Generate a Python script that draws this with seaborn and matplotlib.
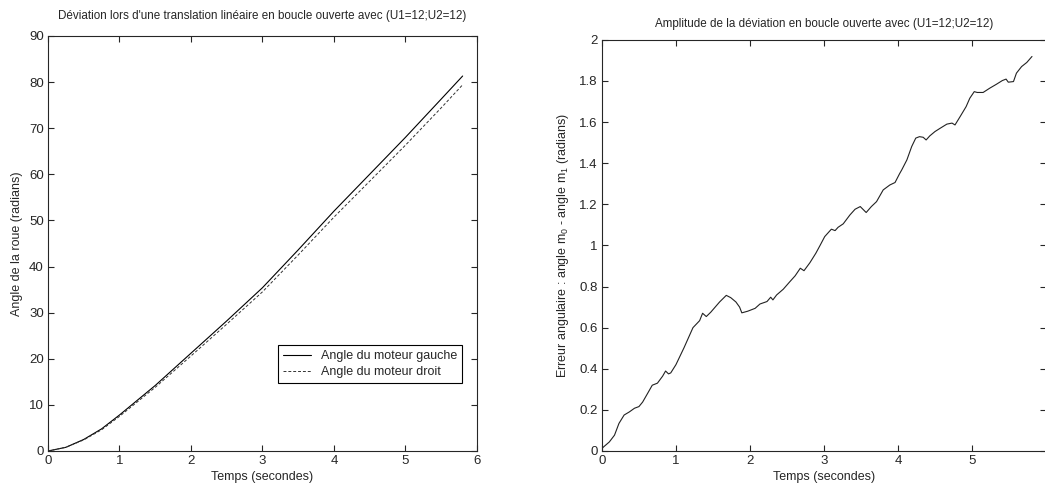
"""
Open-loop deviation plots: wheel angles and angular error
"""
import matplotlib
matplotlib.use("Agg")
import matplotlib.pyplot as plt
import seaborn as sns
import numpy as np

# left panel: wheel angles (radians) vs time (s)
t_angle = [0, 0.25, 0.5, 0.75, 1.0, 1.5, 2.0, 2.5, 3.0, 3.5, 4.0, 4.5, 5.0, 5.5, 5.8]
angle_left = [0, 0.8, 2.5, 4.8, 7.8, 14.2, 21.2, 28.2, 35.4, 43.6, 52.0, 60.0, 68.0, 76.3, 81.3]
angle_right = [0, 0.8, 2.4, 4.6, 7.5, 13.8, 20.6, 27.5, 34.5, 42.5, 50.7, 58.5, 66.3, 74.4, 79.4]

# right panel: angular error m0 - m1 (radians)
t_err = [0.01, 0.10, 0.17, 0.23, 0.30, 0.37, 0.44, 0.50, 0.55, 0.62, 0.68, 0.75, 0.82,
         0.86, 0.90, 0.93, 1.00, 1.11, 1.23, 1.32, 1.36, 1.41, 1.47, 1.59, 1.68, 1.74,
         1.81, 1.86, 1.89, 1.97, 2.07, 2.135, 2.23, 2.28, 2.31, 2.36, 2.45, 2.54, 2.61,
         2.68, 2.73, 2.81, 2.89, 2.95, 3.01, 3.10, 3.15, 3.19, 3.26, 3.35, 3.42, 3.49,
         3.57, 3.64, 3.71, 3.80, 3.89, 3.96, 4.02, 4.05, 4.12, 4.185, 4.24, 4.29, 4.34,
         4.38, 4.43, 4.50, 4.57, 4.66, 4.73, 4.77, 4.84, 4.92, 4.97, 5.03, 5.07, 5.15,
         5.24, 5.33, 5.41, 5.46, 5.49, 5.56, 5.60, 5.67, 5.74, 5.81]
err = [0.016, 0.044, 0.077, 0.134, 0.175, 0.190, 0.208, 0.216, 0.238, 0.282, 0.320, 0.330,
       0.364, 0.389, 0.375, 0.380, 0.420, 0.503, 0.600, 0.634, 0.670, 0.654, 0.675, 0.725,
       0.757, 0.746, 0.725, 0.700, 0.672, 0.680, 0.694, 0.715, 0.727, 0.748, 0.735, 0.759,
       0.787, 0.824, 0.852, 0.889, 0.877, 0.916, 0.962, 1.002, 1.043, 1.079, 1.072, 1.088,
       1.105, 1.148, 1.176, 1.189, 1.160, 1.189, 1.213, 1.270, 1.294, 1.306, 1.348, 1.367,
       1.416, 1.481, 1.522, 1.529, 1.526, 1.513, 1.533, 1.554, 1.570, 1.590, 1.595, 1.586,
       1.627, 1.675, 1.716, 1.748, 1.744, 1.744, 1.765, 1.784, 1.802, 1.809, 1.794, 1.797,
       1.838, 1.870, 1.890, 1.919]

sns.set_style("ticks")
plt.rcParams['font.family'] = ['Liberation Sans', 'DejaVu Sans']
plt.rcParams['font.size'] = 9
plt.rcParams['mathtext.default'] = 'regular'
plt.rcParams['xtick.direction'] = 'in'
plt.rcParams['ytick.direction'] = 'in'
plt.rcParams['xtick.top'] = True
plt.rcParams['ytick.right'] = True
plt.rcParams['xtick.labelsize'] = 9.5
plt.rcParams['ytick.labelsize'] = 9.5

fig = plt.figure(figsize=(10.45, 4.93), dpi=100)
ax1 = fig.add_axes([0.0459, 0.0852, 0.4105, 0.842])
ax2 = fig.add_axes([0.576, 0.0852, 0.425, 0.834])

# Left panel
sns.lineplot(x=t_angle, y=angle_left, ax=ax1, color='black', linewidth=0.8,
             label='Angle du moteur gauche', sort=False)
sns.lineplot(x=t_angle, y=angle_right, ax=ax1, color='#333333', linewidth=0.7,
             label='Angle du moteur droit', sort=False)
ax1.lines[1].set_dashes((3, 2))
ax1.set_xlim(0, 6)
ax1.set_ylim(0, 90)
ax1.set_xticks(range(0, 7))
ax1.set_yticks(range(0, 91, 10))
ax1.set_xlabel('Temps (secondes)', labelpad=3)
ax1.set_ylabel('Angle de la roue (radians)', labelpad=4)
ax1.set_title("Déviation lors d'une translation linéaire en boucle ouverte avec (U1=12;U2=12)",
              fontsize=8.4, pad=12)
leg = ax1.legend(loc='lower right', bbox_to_anchor=(0.965, 0.164), fancybox=False,
                 framealpha=1, edgecolor='black', handlelength=2.2,
                 borderaxespad=0, labelspacing=0.3)
leg.get_frame().set_linewidth(0.8)
leg.legend_handles[1].set_dashes((3, 2))

# Right panel
sns.lineplot(x=t_err, y=err, ax=ax2, color='#222222', linewidth=0.8, sort=False)
ax2.set_xlim(0, 6)
ax2.set_ylim(0, 2)
ax2.set_xticks(range(0, 6))
ax2.set_yticks(np.arange(0, 2.01, 0.2))
ax2.set_yticklabels(['0', '0.2', '0.4', '0.6', '0.8', '1', '1.2', '1.4', '1.6', '1.8', '2'])
ax2.set_xlabel('Temps (secondes)', labelpad=3)
ax2.set_ylabel('Erreur angulaire : angle m$_0$ - angle m$_1$ (radians)', labelpad=6)
ax2.set_title('Amplitude de la déviation en boucle ouverte avec (U1=12;U2=12)',
              fontsize=8.4, pad=9)

for ax in (ax1, ax2):
    for s in ax.spines.values():
        s.set_linewidth(0.8)
    ax.tick_params(length=4, width=0.8, pad=3)

fig.savefig('out.png', dpi=100)
